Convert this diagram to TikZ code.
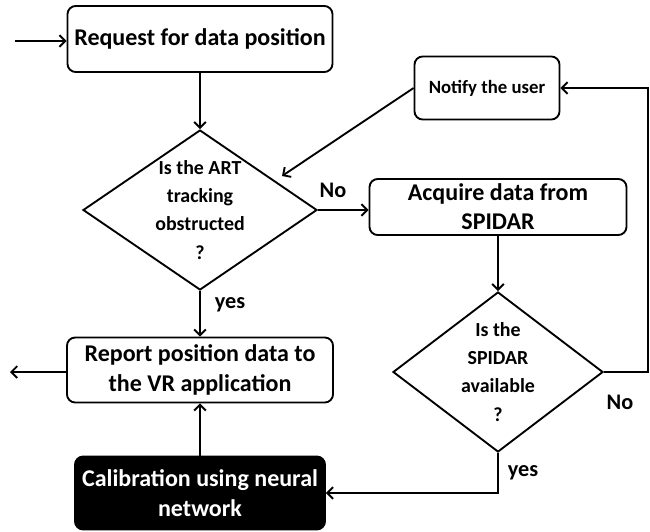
\documentclass[tikz,border=0pt]{standalone}
\usepackage{fontspec}
\setmainfont{Carlito}
\usetikzlibrary{shapes.geometric, arrows.meta, positioning, calc}
\tikzset{basic/.style={draw, line width=1.6pt, align=center, inner sep=0pt}}
\tikzset{process/.style={basic, rectangle, rounded corners=7pt,
                         font=\fontsize{20.5}{25}\selectfont\bfseries}}
\tikzset{decision/.style={basic, diamond}}
\tikzset{dtext/.style={align=center, font=\fontsize{17}{24}\selectfont\bfseries}}
\tikzset{answer/.style={font=\fontsize{19}{20}\selectfont\bfseries}}

\begin{document}
\begin{tikzpicture}[x=0.03cm, y=-0.03cm, line width=1.6pt,
                    >={Straight Barb[length=5pt,width=10pt]}]
    \path[use as bounding box] (0,0) rectangle (650,531);
    % Draw process boxes
    \node[process, minimum width=7.95cm, minimum height=1.98cm] (request) at (200,39) {Request for data position};
    \node[process, minimum width=7.71cm, minimum height=1.68cm] (acquire) at (498,207) {Acquire data from\\SPIDAR};
    \node[process, minimum width=4.35cm, minimum height=1.89cm,
          font=\fontsize{16}{18}\selectfont\bfseries] (notify) at (487,88) {Notify the user};
    \node[process, minimum width=7.98cm, minimum height=1.95cm] (report) at (200,370) {Report position data to\\the VR application};
    \node[process, fill=black, text=white, minimum width=7.5cm, minimum height=2.19cm] (calib) at (200,493) {Calibration using neural\\network};
    % Draw decision nodes
    \node[decision, minimum width=7.02cm, minimum height=4.8cm,
          label={[dtext]center:Is the ART\\tracking\\obstructed\\?}] (art) at (200,210) {};
    \node[decision, minimum width=6.3cm, minimum height=4.8cm,
          label={[dtext]center:Is the\\SPIDAR\\available\\?}] (spidar) at (498,372) {};
    % Free ends
    \coordinate (start) at (15,41);
    \coordinate (output) at (10,372);
    \coordinate (hit) at (282,176);
    \coordinate (corner) at (648,372);
    % Connect everything
    \draw[->] (start) -- (request.west |- start);
    \draw[->] (request) -- (art.north);
    \draw[->] (art.east) -- (art.east -| acquire.west);
    \draw[->] (art.south) -- (report.north);
    \draw[->] (acquire.south) -- (spidar.north);
    \draw[->] (spidar.east) -- (corner) |- (notify.east);
    \draw[->] (notify.west) -- (hit);
    \draw[->] (spidar.south) |- (calib.east);
    \draw[->] (calib.north) -- (report.south);
    \draw[->] (report.west |- output) -- (output);
    % Labels
    \node[answer] (no_art) at (333,190) {No};
    \node[answer] (yes_art) at (230,305) {yes};
    \node[answer] (no_spidar) at (620,402) {No};
    \node[answer] (yes_spidar) at (523,473) {yes};
\end{tikzpicture}
\end{document}
